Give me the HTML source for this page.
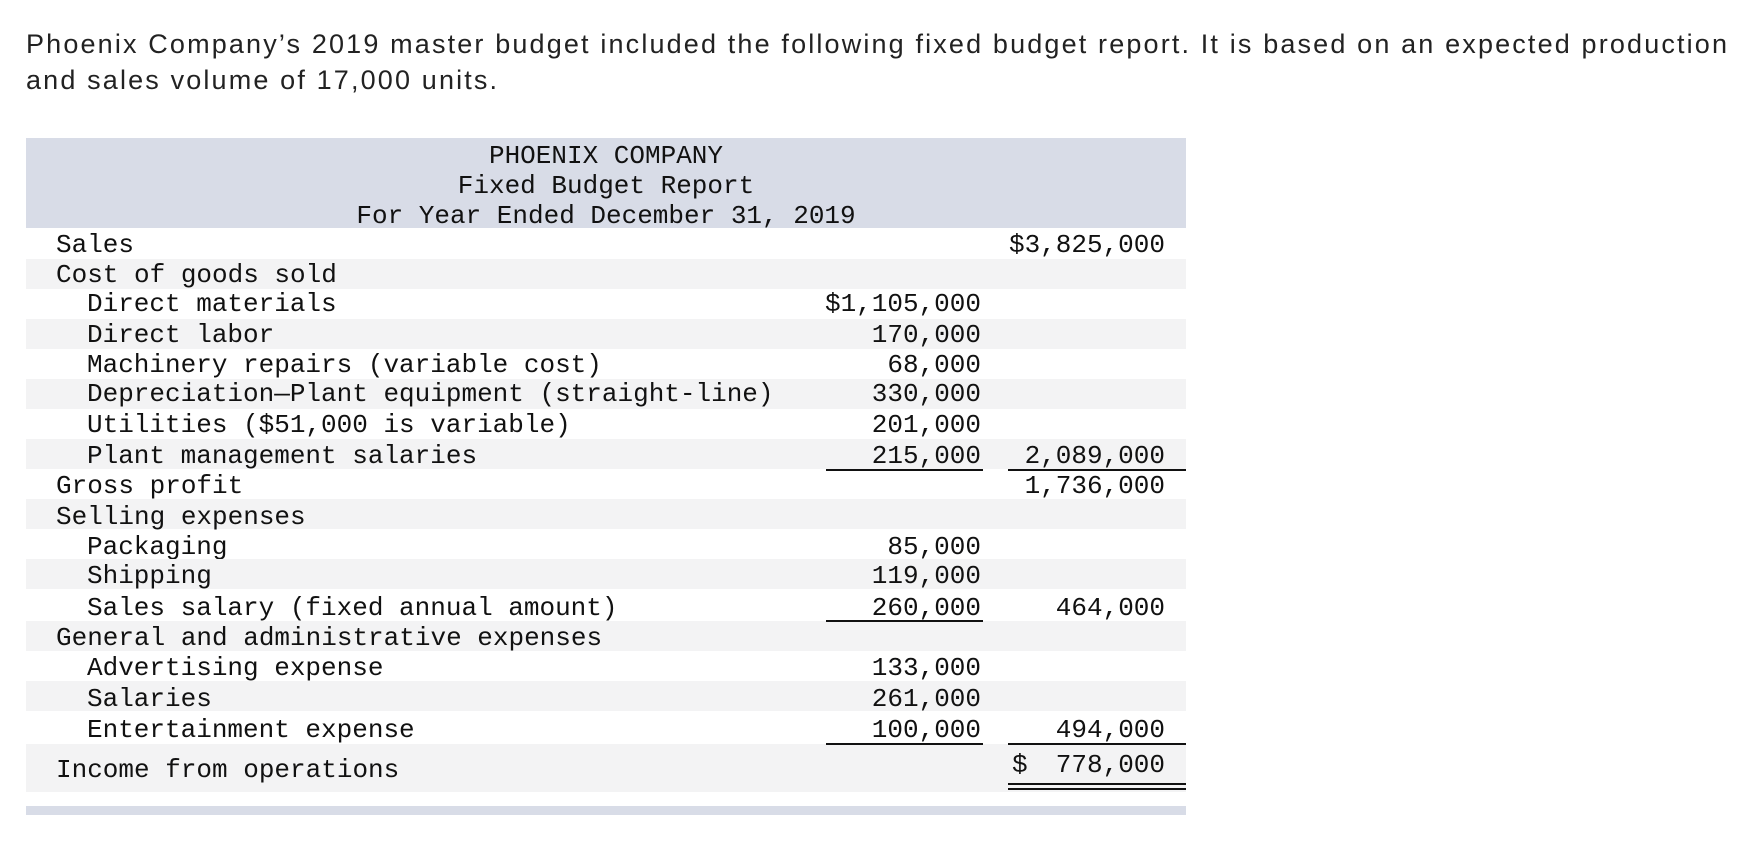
<!DOCTYPE html>
<html><head><meta charset="utf-8"><style>
body{margin:0;width:1762px;height:844px;background:#fff;position:relative;overflow:hidden}
.intro{position:absolute;left:26px;top:26px;font-family:"Liberation Sans",sans-serif;font-size:27px;letter-spacing:2.15px;line-height:36px;color:#222;width:1740px;white-space:nowrap}
.hdr{position:absolute;left:26px;top:138px;width:1160px;height:90px;background:#d8dce7}
.hl{position:absolute;left:26px;width:1160px;text-align:center;font-family:"Liberation Mono",monospace;font-size:26px;color:#111}
.row{position:absolute;left:26px;width:1160px;height:30px}
.g{background:#f3f3f4}
.t{position:absolute;font-family:"Liberation Mono",monospace;font-size:26px;color:#111;white-space:pre;line-height:30px}
.ln{position:absolute;height:2px;background:#111}
.bar{position:absolute;left:26px;top:806px;width:1160px;height:9px;background:#d8dce7}
</style></head><body>
<div class="intro">Phoenix Company’s 2019 master budget included the following fixed budget report. It is based on an expected production<br>and sales volume of 17,000 units.</div>
<div class="hdr"></div>
<div class="hl" style="top:141px">PHOENIX COMPANY</div>
<div class="hl" style="top:171px">Fixed Budget Report</div>
<div class="hl" style="top:201px">For Year Ended December 31, 2019</div>
<div id="tbl"></div>
<div class="bar"></div>
<script>
const labels=["Sales","Cost of goods sold","Direct materials","Direct labor","Machinery repairs (variable cost)","Depreciation—Plant equipment (straight-line)","Utilities ($51,000 is variable)","Plant management salaries","Gross profit","Selling expenses","Packaging","Shipping","Sales salary (fixed annual amount)","General and administrative expenses","Advertising expense","Salaries","Entertainment expense","Income from operations"];
const indent=[0,0,1,1,1,1,1,1,0,0,1,1,1,0,1,1,1,0];
const col1=["","","$1,105,000","170,000","68,000","330,000","201,000","215,000","","","85,000","119,000","260,000","","133,000","261,000","100,000",""];
const col2=["$3,825,000","","","","","","","2,089,000","1,736,000","","","","464,000","","","","494,000","778,000"];
const centers=[245,275,304,335,365,394,425,456,486,517,547,576,608,638,668,699,730,770];
const tbl=document.getElementById('tbl');
const bounds=[228,259,289,319,349,379,409,439,469,499,529,559,589,621,651,681,711,744,792];
centers.forEach((c,i)=>{
  const r=document.createElement('div');
  
  
  r.className='row'+(i%2?' g':'');
  r.style.top=bounds[i]+'px';r.style.height=(bounds[i+1]-bounds[i])+'px';
  tbl.appendChild(r);
  const l=document.createElement('div');
  
  
  l.className='t';l.textContent=labels[i];
  l.style.left=(indent[i]?87:56)+'px';l.style.top=(c-15)+'px';
  tbl.appendChild(l);
  if(col1[i]){const a=document.createElement('div');
    
    
    a.className='t';a.textContent=col1[i];a.style.right=(1762-981)+'px';a.style.top=(c-15)+'px';tbl.appendChild(a);}
  if(col2[i]){const b=document.createElement('div');
    
    
    b.className='t';b.textContent=col2[i];b.style.right=(1762-1165)+'px';b.style.top=(c-(i===17?20:15))+'px';tbl.appendChild(b);}
});
const d=document.createElement('div');


d.className='t';d.textContent='$';d.style.left='1012px';d.style.top='750px';tbl.appendChild(d);
const lines=[[826,983,469],[1008,1186,469],[826,983,620],[826,983,743],[1008,1186,743],[1008,1186,783],[1008,1186,788]];
lines.forEach(L=>{const e=document.createElement('div');
  
  
  e.className='ln';e.style.left=L[0]+'px';e.style.width=(L[1]-L[0])+'px';e.style.top=L[2]+'px';tbl.appendChild(e);});
</script>
</body></html>
